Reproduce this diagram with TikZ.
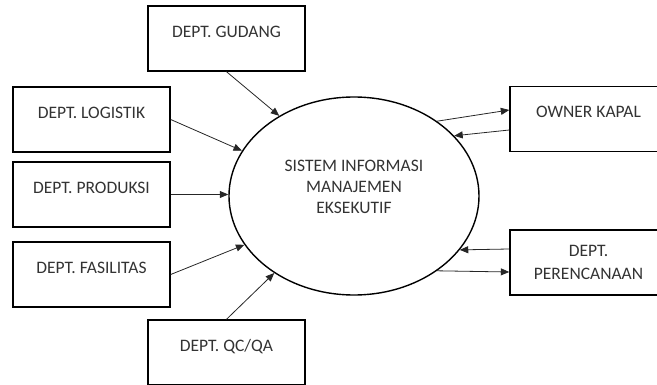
\documentclass[tikz,border=0pt]{standalone}
\usepackage{fontspec}
\setmainfont{Carlito}
\usetikzlibrary{arrows.meta,shapes.geometric}

\begin{document}
\begin{tikzpicture}[x=1pt,y=-1pt,>={Triangle[length=8.5pt,width=7pt]},
    dept/.style={draw,line width=1.4pt,minimum width=157pt,minimum height=65pt,inner sep=0pt,text height=12pt,text depth=14pt,font=\fontsize{17.5}{21.4}\selectfont,text=black!80},
    deptlong/.style={draw,line width=1.4pt,minimum width=157pt,minimum height=65pt,inner sep=0pt,align=center,font=\fontsize{17.5}{23}\selectfont,text=black!80},
    flow/.style={->,line width=0.8pt,draw=black!85}]
    \clip (0,0) rectangle (657,385);
    \node[ellipse,draw,line width=1.4pt,minimum width=250pt,minimum height=198pt,inner sep=0pt] (sim) at (354,196) {};
    \node[align=center,font=\fontsize{17.5}{21}\selectfont,text=black!80] (simtext) at (354,187) {SISTEM INFORMASI\\MANAJEMEN\\EKSEKUTIF};
    \node[dept] (gudang) at (226.5,38.5) {DEPT. GUDANG};
    \node[dept] (logistik) at (91.5,119.5) {DEPT. LOGISTIK};
    \node[dept] (produksi) at (91.5,194.5) {DEPT. PRODUKSI};
    \node[dept] (fasilitas) at (91.5,274.5) {DEPT. FASILITAS};
    \node[dept] (qcqa) at (226.5,352.5) {DEPT. QC/QA};
    \node[dept] (owner) at (588.5,119) {OWNER KAPAL};
    \node[deptlong] (perencanaan) at (588.5,262.5) {DEPT.\\PERENCANAAN};
    \draw[flow] (gudang.south) -- (sim.133);
    \draw[flow] (logistik.east) -- (sim.158);
    \draw[flow] (produksi.east) -- (produksi.east -| sim.west);
    \draw[flow] (fasilitas.east) -- (sim.204);
    \draw[flow] (qcqa.north) -- (sim.224);
    \draw[flow] (sim.42) -- ([yshift=9]owner.west);
    \draw[flow] ([yshift=-11]owner.west) -- (sim.31);
    \draw[flow] ([yshift=13.5]perencanaan.west) -- (sim.-27);
    \draw[flow] (sim.-42) -- ([yshift=-9.5]perencanaan.west);
\end{tikzpicture}
\end{document}
